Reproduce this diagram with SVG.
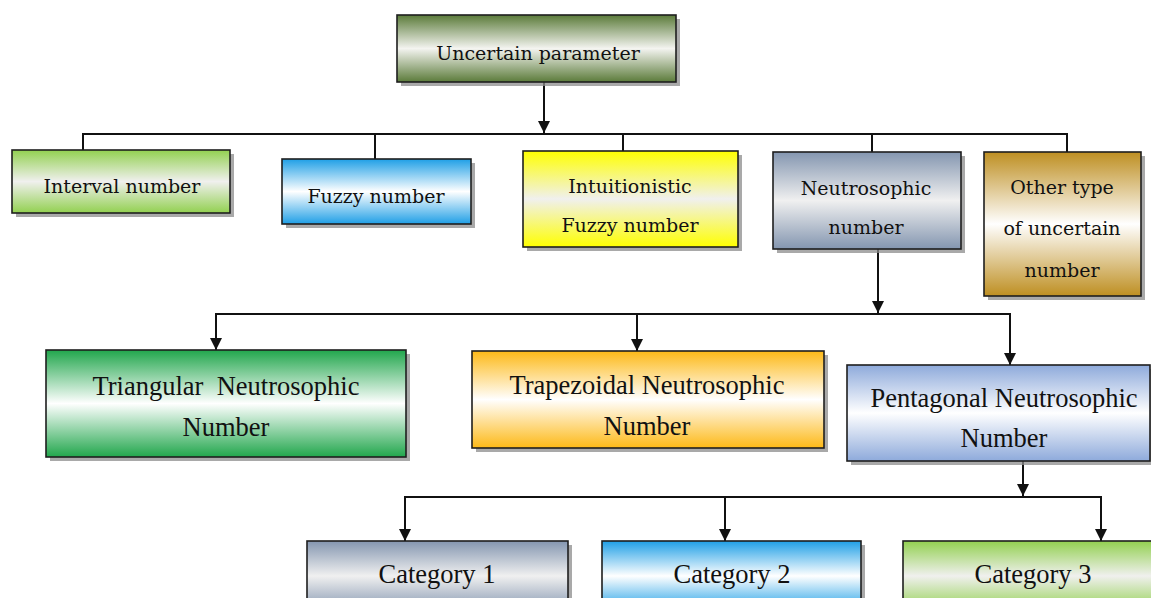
<svg xmlns="http://www.w3.org/2000/svg" width="1151" height="598" viewBox="0 0 1151 598">
<style>
.box{stroke:#1e1e1e;stroke-width:1.6}
.sh{fill:#8c8c8c;opacity:0.75}
.t1{font-family:"DejaVu Serif","Liberation Serif",serif;font-size:19px;fill:#111;text-anchor:middle}
.t2{font-family:"Liberation Serif","DejaVu Serif",serif;font-size:26.5px;fill:#111;text-anchor:middle}
.ln{stroke:#111;stroke-width:2;fill:none}
</style>
<defs>
<linearGradient id="gOlive" x1="0" y1="0" x2="0" y2="1"><stop offset="0" stop-color="#5b7b3a"/><stop offset="0.5" stop-color="#f4f4f0"/><stop offset="1" stop-color="#5b7b3a"/></linearGradient>
<linearGradient id="gLime" x1="0" y1="0" x2="0" y2="1"><stop offset="0" stop-color="#92d050"/><stop offset="0.5" stop-color="#f0f0ee"/><stop offset="1" stop-color="#92d050"/></linearGradient>
<linearGradient id="gSky" x1="0" y1="0" x2="0" y2="1"><stop offset="0" stop-color="#1f9fe6"/><stop offset="0.5" stop-color="#ffffff"/><stop offset="1" stop-color="#1f9fe6"/></linearGradient>
<linearGradient id="gYellow" x1="0" y1="0" x2="0" y2="1"><stop offset="0" stop-color="#ffff00"/><stop offset="0.5" stop-color="#f0f0ee"/><stop offset="1" stop-color="#ffff00"/></linearGradient>
<linearGradient id="gSlate" x1="0" y1="0" x2="0" y2="1"><stop offset="0" stop-color="#8496b0"/><stop offset="0.5" stop-color="#f0f0f0"/><stop offset="1" stop-color="#8496b0"/></linearGradient>
<linearGradient id="gGold" x1="0" y1="0" x2="0" y2="1"><stop offset="0" stop-color="#be8f22"/><stop offset="0.5" stop-color="#ffffff"/><stop offset="1" stop-color="#be8f22"/></linearGradient>
<linearGradient id="gGreen" x1="0" y1="0" x2="0" y2="1"><stop offset="0" stop-color="#21a64c"/><stop offset="0.5" stop-color="#ffffff"/><stop offset="1" stop-color="#21a64c"/></linearGradient>
<linearGradient id="gOrange" x1="0" y1="0" x2="0" y2="1"><stop offset="0" stop-color="#fdb917"/><stop offset="0.5" stop-color="#ffffff"/><stop offset="1" stop-color="#fdb917"/></linearGradient>
<linearGradient id="gPeri" x1="0" y1="0" x2="0" y2="1"><stop offset="0" stop-color="#8eaadb"/><stop offset="0.5" stop-color="#ffffff"/><stop offset="1" stop-color="#8eaadb"/></linearGradient>
<marker id="arr" viewBox="0 0 10 10" refX="10" refY="5" markerWidth="12" markerHeight="12" markerUnits="userSpaceOnUse" orient="auto"><path d="M0,0 L10,5 L0,10 z" fill="#111"/></marker>
</defs>

<g id="connectors">
<line class="ln" x1="544" y1="82" x2="544" y2="133" marker-end="url(#arr)"/>
<polyline class="ln" points="83,150 83,134 1067,134 1067,152"/>
<line class="ln" x1="375" y1="134" x2="375" y2="159"/>
<line class="ln" x1="623" y1="134" x2="623" y2="151"/>
<line class="ln" x1="872" y1="134" x2="872" y2="152"/>
<line class="ln" x1="878" y1="249" x2="878" y2="313" marker-end="url(#arr)"/>
<polyline class="ln" points="216,350 216,314 1010,314 1010,365" marker-end="url(#arr)"/>
<line class="ln" x1="216" y1="330" x2="216" y2="350" marker-end="url(#arr)"/>
<line class="ln" x1="637" y1="314" x2="637" y2="351" marker-end="url(#arr)"/>
<line class="ln" x1="1023" y1="461" x2="1023" y2="496" marker-end="url(#arr)"/>
<polyline class="ln" points="405,541 405,497 1101,497 1101,541" marker-end="url(#arr)"/>
<line class="ln" x1="405" y1="520" x2="405" y2="541" marker-end="url(#arr)"/>
<line class="ln" x1="725" y1="497" x2="725" y2="541" marker-end="url(#arr)"/>
</g>

<g id="uncertain">
<rect class="sh" x="401" y="19" width="279" height="67"/>
<rect class="box" x="397" y="15" width="279" height="67" fill="url(#gOlive)"/>
<text class="t1" x="538" y="60">Uncertain parameter</text>
</g>

<g id="interval">
<rect class="sh" x="16" y="154" width="218" height="63"/>
<rect class="box" x="12" y="150" width="218" height="63" fill="url(#gLime)"/>
<text class="t1" x="122" y="193">Interval number</text>
</g>

<g id="fuzzy">
<rect class="sh" x="286" y="163" width="189" height="65"/>
<rect class="box" x="282" y="159" width="189" height="65" fill="url(#gSky)"/>
<text class="t1" x="376" y="203">Fuzzy number</text>
</g>

<g id="intuitionistic">
<rect class="sh" x="527" y="155" width="215" height="96"/>
<rect class="box" x="523" y="151" width="215" height="96" fill="url(#gYellow)"/>
<text class="t1" x="630" y="193">Intuitionistic</text>
<text class="t1" x="630" y="232">Fuzzy number</text>
</g>

<g id="neutrosophic">
<rect class="sh" x="777" y="156" width="188" height="97"/>
<rect class="box" x="773" y="152" width="188" height="97" fill="url(#gSlate)"/>
<text class="t1" x="866" y="195">Neutrosophic</text>
<text class="t1" x="866" y="234">number</text>
</g>

<g id="other">
<rect class="sh" x="988" y="156" width="157" height="144"/>
<rect class="box" x="984" y="152" width="157" height="144" fill="url(#gGold)"/>
<text class="t1" x="1062" y="194">Other type</text>
<text class="t1" x="1062" y="235">of uncertain</text>
<text class="t1" x="1062" y="277">number</text>
</g>

<g id="triangular">
<rect class="sh" x="50" y="354" width="360" height="107"/>
<rect class="box" x="46" y="350" width="360" height="107" fill="url(#gGreen)"/>
<text class="t2" x="226" y="395" xml:space="preserve">Triangular  Neutrosophic</text>
<text class="t2" x="226" y="436">Number</text>
</g>

<g id="trapezoidal">
<rect class="sh" x="476" y="355" width="352" height="97"/>
<rect class="box" x="472" y="351" width="352" height="97" fill="url(#gOrange)"/>
<text class="t2" x="647" y="394">Trapezoidal Neutrosophic</text>
<text class="t2" x="647" y="435">Number</text>
</g>

<g id="pentagonal">
<rect class="sh" x="851" y="369" width="303" height="96"/>
<rect class="box" x="847" y="365" width="303" height="96" fill="url(#gPeri)"/>
<text class="t2" x="1004" y="407">Pentagonal Neutrosophic</text>
<text class="t2" x="1004" y="447">Number</text>
</g>

<g id="cat1">
<rect class="sh" x="311" y="545" width="261" height="70"/>
<rect class="box" x="307" y="541" width="261" height="70" fill="url(#gSlate)"/>
<text class="t2" x="437" y="583">Category 1</text>
</g>

<g id="cat2">
<rect class="sh" x="606" y="545" width="259" height="70"/>
<rect class="box" x="602" y="541" width="259" height="70" fill="url(#gSky)"/>
<text class="t2" x="732" y="583">Category 2</text>
</g>

<g id="cat3">
<rect class="sh" x="907" y="545" width="250" height="70"/>
<rect class="box" x="903" y="541" width="250" height="70" fill="url(#gLime)"/>
<text class="t2" x="1033" y="583">Category 3</text>
</g>
</svg>
